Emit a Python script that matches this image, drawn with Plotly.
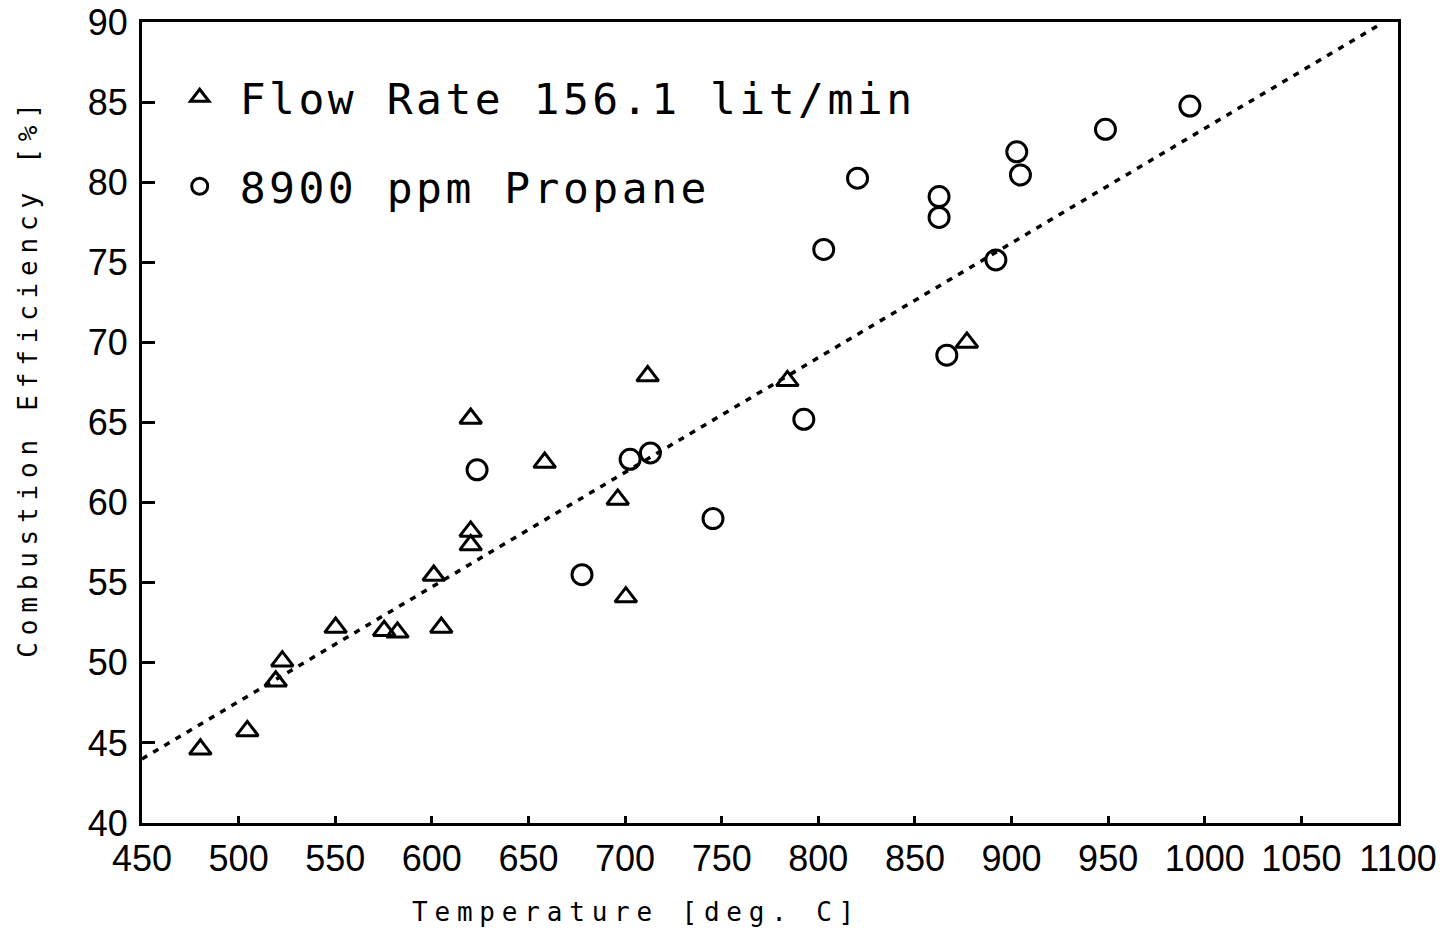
import plotly.graph_objects as go

# Flow Rate 156.1 lit/min (triangles)
tri_temp = [480.2, 504.5, 519.2, 522.6, 550.2, 575.3, 582.2, 601.0, 604.9, 620.1, 620.1, 620.1,
            658.4, 696.2, 700.4, 711.7, 784.0, 876.9]
tri_eff = [44.6, 45.75, 48.85, 50.1, 52.2, 52.0, 51.9, 55.45, 52.2, 65.25, 58.2, 57.35,
           62.5, 60.2, 54.1, 67.9, 67.6, 70.0]

# 8900 ppm Propane (circles)
circ_temp = [623.4, 677.7, 702.6, 713.1, 745.5, 792.5, 802.8, 820.3, 862.5, 862.5, 866.5,
             891.9, 902.7, 904.6, 948.6, 992.3]
circ_eff = [62.05, 55.5, 62.7, 63.1, 59.0, 65.2, 75.8, 80.25, 79.1, 77.8, 69.2,
            75.15, 81.9, 80.45, 83.3, 84.75]

# fitted trend line (dotted)
fit_temp = [450, 1090]
fit_eff = [44.0, 89.8]

x_ticks = list(range(450, 1101, 50))
y_ticks = list(range(40, 91, 5))

name_tri = '<span style="letter-spacing:3.5px">Flow Rate 156.1 lit/min</span>'
name_circ = '<span style="letter-spacing:3.5px">8900 ppm Propane</span>'

fig = go.Figure()
fig.add_trace(go.Scatter(
    x=fit_temp, y=fit_eff, mode="lines", showlegend=False,
    line=dict(color="black", width=3.5, dash="6px,7px"), hoverinfo="skip"))
fig.add_trace(go.Scatter(
    x=tri_temp, y=tri_eff, mode="markers", name=name_tri, legendgroup="a",
    marker=dict(symbol="triangle-up-open", size=19, color="black", line=dict(width=3, color="black"))))
fig.add_trace(go.Scatter(
    x=circ_temp, y=circ_eff, mode="markers", name=name_circ, legendgroup="b",
    marker=dict(symbol="circle-open", size=20, color="black", line=dict(width=3, color="black"))))

tick_font = dict(family="Liberation Sans Narrow, Liberation Sans, sans-serif", size=36, color="black")
title_font = dict(family="DejaVu Sans Mono, monospace", size=26, color="black")

fig.update_xaxes(range=[450, 1100], tickvals=x_ticks, ticks="inside", ticklen=7, tickwidth=3,
                 tickcolor="black", showline=True, linewidth=3, linecolor="black", mirror=True,
                 showgrid=False, zeroline=False, tickfont=tick_font, ticklabelstandoff=2,
                 automargin=False)
fig.update_yaxes(range=[40, 90], tickvals=y_ticks, ticks="inside", ticklen=13, tickwidth=3,
                 tickcolor="black", showline=True, linewidth=3, linecolor="black", mirror=True,
                 showgrid=False, zeroline=False, tickfont=tick_font, ticklabelstandoff=4,
                 automargin=False)

fig.update_layout(
    width=1445, height=947,
    margin=dict(l=142, r=47, t=22, b=124, autoexpand=False),
    plot_bgcolor="white", paper_bgcolor="white",
    showlegend=True,
    legend=dict(x=0.0141, y=0.949, xanchor="left", yanchor="top",
                font=dict(family="DejaVu Sans Mono, monospace", size=43, color="black"),
                bgcolor="rgba(0,0,0,0)", traceorder="grouped", tracegroupgap=30,
                itemsizing="trace", itemwidth=70),
    annotations=[
        dict(text='<span style="letter-spacing:6.8px">Temperature [deg. C]</span>',
             xref="paper", yref="paper", x=0.394, y=0, yshift=-89,
             xanchor="center", yanchor="middle", showarrow=False, font=title_font),
        dict(text='<span style="letter-spacing:6.8px">Combustion Efficiency [%]</span>',
             xref="paper", yref="paper", x=0, xshift=-114, y=0.556, textangle=-90,
             xanchor="center", yanchor="middle", showarrow=False, font=title_font),
    ],
)

fig.write_html("out.html", config={"displayModeBar": False},
               post_script="document.body.style.margin='0';")
